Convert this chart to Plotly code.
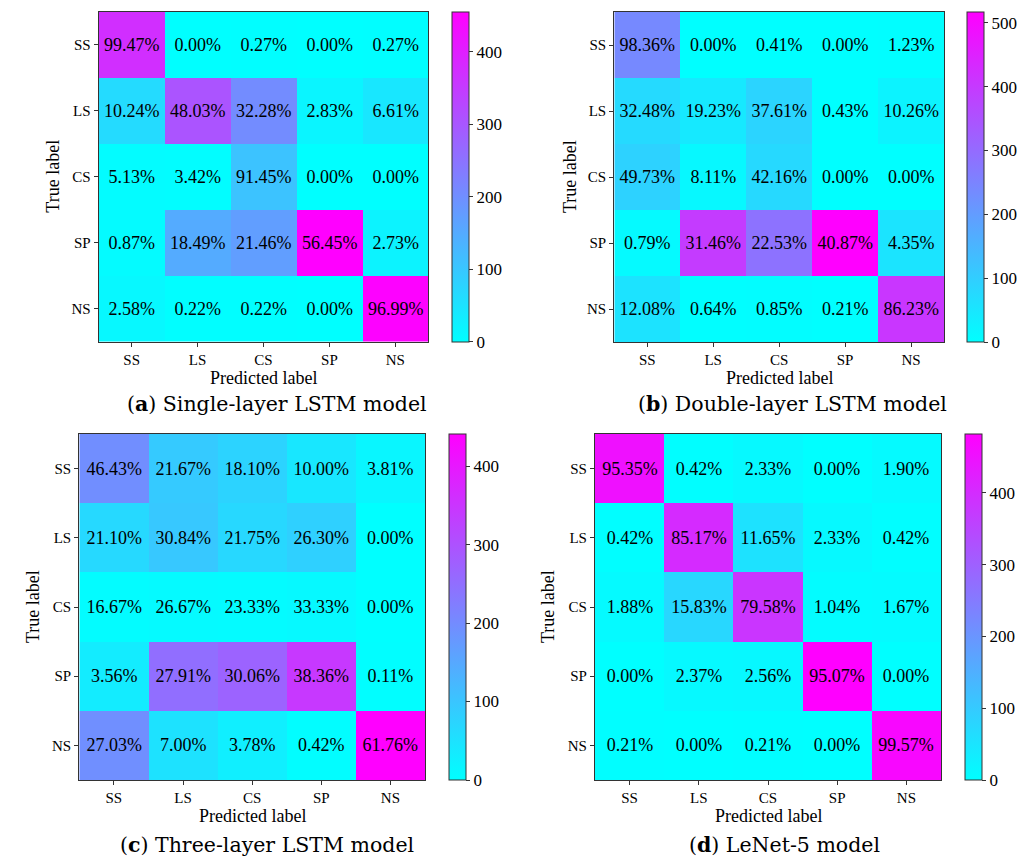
import plotly.graph_objects as go

W, H = 1035, 859

labels = ["SS", "LS", "CS", "SP", "NS"]

# Row-normalised percentages (text shown in cells)
pct_a = [[99.47, 0.00, 0.27, 0.00, 0.27],
         [10.24, 48.03, 32.28, 2.83, 6.61],
         [5.13, 3.42, 91.45, 0.00, 0.00],
         [0.87, 18.49, 21.46, 56.45, 2.73],
         [2.58, 0.22, 0.22, 0.00, 96.99]]
pct_b = [[98.36, 0.00, 0.41, 0.00, 1.23],
         [32.48, 19.23, 37.61, 0.43, 10.26],
         [49.73, 8.11, 42.16, 0.00, 0.00],
         [0.79, 31.46, 22.53, 40.87, 4.35],
         [12.08, 0.64, 0.85, 0.21, 86.23]]
pct_c = [[46.43, 21.67, 18.10, 10.00, 3.81],
         [21.10, 30.84, 21.75, 26.30, 0.00],
         [16.67, 26.67, 23.33, 33.33, 0.00],
         [3.56, 27.91, 30.06, 38.36, 0.11],
         [27.03, 7.00, 3.78, 0.42, 61.76]]
pct_d = [[95.35, 0.42, 2.33, 0.00, 1.90],
         [0.42, 85.17, 11.65, 2.33, 0.42],
         [1.88, 15.83, 79.58, 1.04, 1.67],
         [0.00, 2.37, 2.56, 95.07, 0.00],
         [0.21, 0.00, 0.21, 0.00, 99.57]]

# Sample counts (drive the colour), estimated from percentages and colours
cnt_a = [[373, 0, 1, 0, 1],
         [65, 305, 205, 18, 42],
         [6, 4, 107, 0, 0],
         [7, 149, 173, 455, 22],
         [12, 1, 1, 0, 451]]
cnt_b = [[240, 0, 1, 0, 3],
         [76, 45, 88, 1, 24],
         [92, 15, 78, 0, 0],
         [10, 398, 285, 517, 55],
         [57, 3, 4, 1, 407]]
cnt_c = [[195, 91, 76, 42, 16],
         [65, 95, 67, 81, 0],
         [5, 8, 7, 10, 0],
         [32, 251, 270, 345, 1],
         [193, 50, 27, 3, 441]]
cnt_d = [[451, 2, 11, 0, 9],
         [2, 402, 55, 11, 2],
         [9, 76, 382, 5, 8],
         [0, 12, 13, 482, 0],
         [1, 0, 1, 0, 468]]

captions = ["(<b>a</b>) Single-layer LSTM model",
            "(<b>b</b>) Double-layer LSTM model",
            "(<b>c</b>) Three-layer LSTM model",
            "(<b>d</b>) LeNet-5 model"]

# pixel boxes of each heatmap: (x0, x1, y0, y1) from top-left
boxes = [(98.7, 428.3, 11.7, 341.7),
         (614.3, 944.0, 12.0, 342.0),
         (79.3, 425.0, 434.0, 780.0),
         (595.0, 941.0, 434.0, 780.0)]
cbar_x = [451.7, 967.3, 449.3, 965.0]
ylab_x = [53, 570, 33, 548]
cap_pos = [(276.5, 404), (792.5, 404), (267, 845), (784.6, 845)]

SERIF = "Liberation Serif, Times New Roman, serif"
CAPFONT = "DejaVu Serif, serif"
cool = [[0, "rgb(0,255,255)"], [1, "rgb(255,0,255)"]]

fig = go.Figure()
layout = dict(width=W, height=H, margin=dict(l=0, r=0, t=0, b=0),
              paper_bgcolor="white", plot_bgcolor="white",
              font=dict(family=SERIF, color="black"), showlegend=False)
annotations = []

pcts = [pct_a, pct_b, pct_c, pct_d]
cnts = [cnt_a, cnt_b, cnt_c, cnt_d]

for i in range(4):
    n = "" if i == 0 else str(i + 1)
    x0, x1, y0, y1 = boxes[i]
    text = [["%.2f%%" % v for v in row] for row in pcts[i]]
    zmax = max(max(r) for r in cnts[i])
    fig.add_trace(go.Heatmap(
        z=cnts[i], x=labels, y=labels, text=text, texttemplate="%{text}",
        textfont=dict(family=SERIF, size=18, color="black"),
        coloraxis="coloraxis" + n, xaxis="x" + n, yaxis="y" + n,
        xgap=0, ygap=0, hoverinfo="skip"))
    layout["xaxis" + n] = dict(
        domain=[x0 / W, x1 / W], anchor="y" + n, type="category",
        categoryorder="array", categoryarray=labels,
        showline=True, linecolor="#333", linewidth=1.2, mirror=True,
        ticks="outside", ticklen=4, tickcolor="#333",
        tickfont=dict(family=SERIF, size=15, color="black"), showgrid=False, zeroline=False)
    layout["yaxis" + n] = dict(
        domain=[1 - y1 / H, 1 - y0 / H], anchor="x" + n, type="category",
        categoryorder="array", categoryarray=labels, autorange="reversed",
        showline=True, linecolor="#333", linewidth=1.2, mirror=True,
        ticks="outside", ticklen=4, tickcolor="#333",
        tickfont=dict(family=SERIF, size=15, color="black"), showgrid=False, zeroline=False)
    layout["coloraxis" + n] = dict(
        colorscale=cool, cmin=0, cmax=zmax,
        colorbar=dict(x=cbar_x[i] / W, xanchor="left", xpad=0, ypad=0,
                      y=1 - (y0 + y1) / 2 / H, yanchor="middle",
                      lenmode="pixels", len=(y1 - y0), thickness=17,
                      outlinewidth=1, outlinecolor="#333",
                      ticks="outside", ticklen=4, tickcolor="#333", dtick=100, tick0=0,
                      tickfont=dict(family=SERIF, size=17, color="black")))
    # axis titles
    annotations.append(dict(text="Predicted label", x=(x0 + x1) / 2 / W, y=1 - (y1 + 36) / H,
                            xref="paper", yref="paper", showarrow=False,
                            font=dict(family=SERIF, size=18, color="black"),
                            xanchor="center", yanchor="middle"))
    annotations.append(dict(text="True label", x=ylab_x[i] / W, y=1 - (y0 + y1) / 2 / H,
                            xref="paper", yref="paper", showarrow=False, textangle=-90,
                            font=dict(family=SERIF, size=18, color="black"),
                            xanchor="center", yanchor="middle"))
    cx, cy = cap_pos[i]
    annotations.append(dict(text=captions[i], x=cx / W, y=1 - cy / H,
                            xref="paper", yref="paper", showarrow=False,
                            font=dict(family=CAPFONT, size=20.5, color="black"),
                            xanchor="center", yanchor="middle"))

layout["annotations"] = annotations
fig.update_layout(**layout)
fig.write_html("out.html")
